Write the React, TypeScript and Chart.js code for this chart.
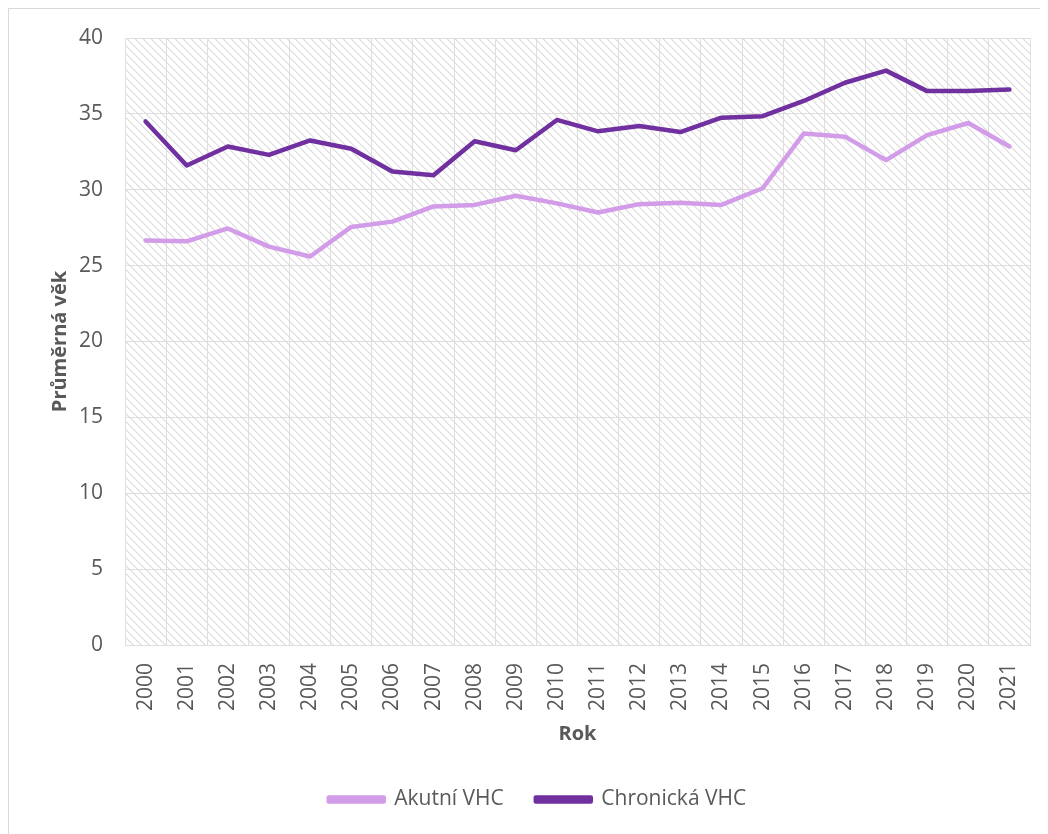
import React, { useEffect, useRef } from "react";
import { Chart, registerables } from "chart.js";

Chart.register(...registerables);

const years = ["2000","2001","2002","2003","2004","2005","2006","2007","2008","2009","2010","2011","2012","2013","2014","2015","2016","2017","2018","2019","2020","2021"];
const akutni = [26.65, 26.6, 27.45, 26.25, 25.6, 27.55, 27.9, 28.9, 29.0, 29.6, 29.1, 28.5, 29.05, 29.15, 29.0, 30.1, 33.7, 33.5, 31.95, 33.6, 34.4, 32.85];
const chronicka = [34.5, 31.6, 32.85, 32.3, 33.25, 32.7, 31.2, 30.95, 33.2, 32.6, 34.6, 33.85, 34.2, 33.8, 34.75, 34.85, 35.85, 37.05, 37.85, 36.5, 36.5, 36.6];
const seriesNames = ["Akutní VHC", "Chronická VHC"];
const seriesColors = ["#D39CE9", "#7030A0"];
const yTitle = "Průměrná věk";
const xTitle = "Rok";

const FONT = "'Open Sans', 'Liberation Sans', sans-serif";
const TEXT = "#595959";
const GRID = "#dedede";

function makePattern(ctx: CanvasRenderingContext2D) {
  const c = document.createElement("canvas");
  c.width = 8;
  c.height = 8;
  const p = c.getContext("2d")!;
  p.fillStyle = "#ffffff";
  p.fillRect(0, 0, 8, 8);
  for (let y = 0; y < 8; y++) {
    for (let x = 0; x < 8; x++) {
      const d = (((x - y) % 8) + 8) % 8;
      if (d === 0) {
        p.fillStyle = "#dcdcdc";
        p.fillRect(x, y, 1, 1);
      } else if (d === 1) {
        p.fillStyle = "#ececec";
        p.fillRect(x, y, 1, 1);
      }
    }
  }
  return ctx.createPattern(c, "repeat");
}

const hatchPlugin = {
  id: "hatchBg",
  beforeDraw(chart: any) {
    const { ctx, chartArea } = chart;
    if (!chartArea) return;
    const pat = makePattern(ctx);
    ctx.save();
    ctx.fillStyle = pat || "#eee";
    ctx.fillRect(chartArea.left, chartArea.top, chartArea.right - chartArea.left, chartArea.bottom - chartArea.top);
    ctx.restore();
  },
};

export default function App() {
  const ref = useRef<HTMLCanvasElement>(null);
  useEffect(() => {
    if (!ref.current) return;
    const chart = new Chart(ref.current, {
      type: "line",
      data: {
        labels: years,
        datasets: [
          {
            label: seriesNames[0],
            data: akutni,
            borderColor: seriesColors[0],
            backgroundColor: seriesColors[0],
            borderWidth: 4.5,
            pointRadius: 0,
            tension: 0,
            borderCapStyle: "round",
            borderJoinStyle: "round",
          },
          {
            label: seriesNames[1],
            data: chronicka,
            borderColor: seriesColors[1],
            backgroundColor: seriesColors[1],
            borderWidth: 4.5,
            pointRadius: 0,
            tension: 0,
            borderCapStyle: "round",
            borderJoinStyle: "round",
          },
        ],
      },
      options: {
        animation: false,
        responsive: false,
        maintainAspectRatio: false,
        layout: { padding: { top: 29, right: 18, left: 36, bottom: 14 } },
        plugins: {
          tooltip: { enabled: false },
          legend: {
            position: "bottom",
            labels: {
              boxWidth: 55,
              boxHeight: 4,
              padding: 32,
              color: TEXT,
              font: { family: FONT, size: 21 },
            },
          },
        },
        scales: {
          x: {
            offset: true,
            grid: { offset: true, color: GRID, drawTicks: false, lineWidth: 1 },
            border: { color: GRID, width: 1 },
            ticks: {
              color: TEXT,
              font: { family: FONT, size: 21 },
              minRotation: 90,
              maxRotation: 90,
              padding: 18,
              autoSkip: false,
            },
            title: {
              display: true,
              text: xTitle,
              color: TEXT,
              font: { family: FONT, size: 20, weight: "bold" },
              padding: { top: 0, bottom: 11 },
            },
            afterFit(scale: any) {
              scale.height = 112;
              scale.paddingLeft = 0;
              scale.paddingRight = 0;
            },
          },
          y: {
            min: 0,
            max: 40,
            grid: { color: GRID, drawTicks: false, lineWidth: 1 },
            border: { color: GRID, width: 1 },
            ticks: {
              stepSize: 5,
              color: TEXT,
              font: { family: FONT, size: 21 },
              padding: 22,
            },
            title: {
              display: true,
              text: yTitle,
              color: TEXT,
              font: { family: FONT, size: 20, weight: "bold" },
              padding: { top: 3, bottom: 0 },
            },
            afterFit(scale: any) {
              scale.width = 80;
              scale.paddingTop = 0;
              scale.paddingBottom = 0;
            },
          },
        },
      },
      plugins: [hatchPlugin],
    });
    return () => chart.destroy();
  }, []);
  return (
    <div
      style={{
        position: "relative",
        width: 1040,
        height: 826,
        boxSizing: "border-box",
        borderTop: "1px solid #d9d9d9",
        borderLeft: "1px solid #d9d9d9",
        overflow: "hidden",
      }}
    >
      <canvas ref={ref} width={1039} height={825} style={{ display: "block" }} />
    </div>
  );
}
